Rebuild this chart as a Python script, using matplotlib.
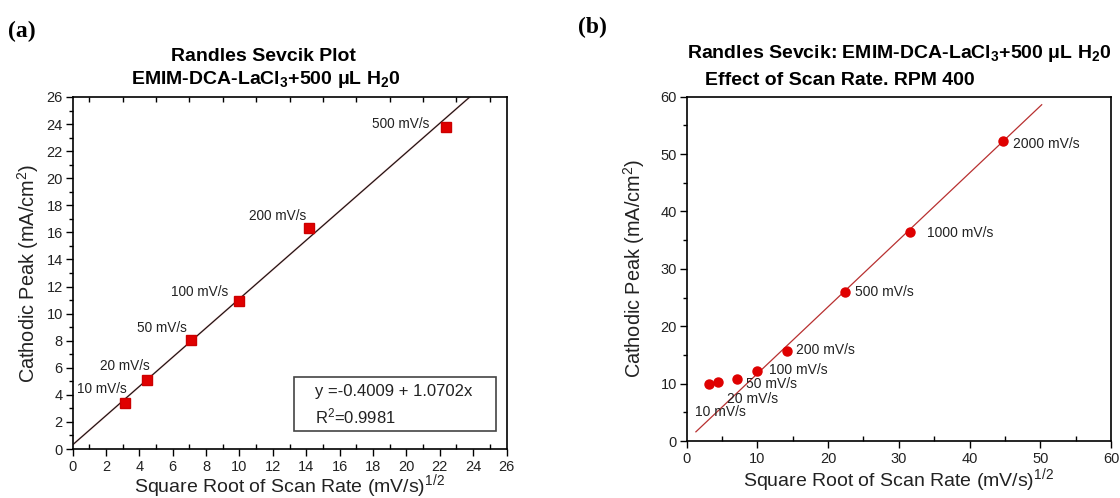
import matplotlib
matplotlib.use("Agg")
import matplotlib.pyplot as plt
from matplotlib.ticker import MultipleLocator
from matplotlib.patches import Rectangle

plt.rcParams['font.family'] = ['Liberation Sans', 'DejaVu Sans']
plt.rcParams['mathtext.fontset'] = 'custom'
plt.rcParams['mathtext.rm'] = 'Liberation Sans'
plt.rcParams['mathtext.it'] = 'Liberation Sans:italic'
plt.rcParams['mathtext.bf'] = 'Liberation Sans:bold'

# ---------------- data: panel (a) ----------------
labels_a = ['10 mV/s', '20 mV/s', '50 mV/s', '100 mV/s', '200 mV/s', '500 mV/s']
sqrt_rate_a = [3.16, 4.47, 7.07, 10.0, 14.14, 22.36]
peak_a = [3.38, 5.1, 8.05, 10.95, 16.32, 23.8]
fit_x_a = [0.0, 23.8]
fit_y_a = [0.3, 26.0]
fit_text_a = ['y =-0.4009 + 1.0702x', 'R$^2$=0.9981']

# ---------------- data: panel (b) ----------------
labels_b = ['10 mV/s', '20 mV/s', '50 mV/s', '100 mV/s', '200 mV/s',
            '500 mV/s', '1000 mV/s', '2000 mV/s']
sqrt_rate_b = [3.16, 4.47, 7.07, 10.0, 14.14, 22.36, 31.62, 44.72]
peak_b = [9.88, 10.34, 10.8, 12.2, 15.74, 26.0, 36.4, 52.2]
fit_x_b = [1.3, 50.2]
fit_y_b = [1.6, 58.6]

# label offsets in pixels (dx, dy)
offsets_a = [(2, 14), (3, 14), (-3.5, 12), (-11, 9), (-2, 12), (-16, 3)]
offsets_b = [(-14, -28), (8.7, -17), (9.3, -5.3), (11.6, 1), (9.3, 0.7),
             (10.2, 0), (16.7, -0.6), (10, -2.5)]

W, H = 1120, 498
fig = plt.figure(figsize=(W / 100, H / 100), dpi=100)

tick_color = '#222222'

def px_axes(left, top, right, bottom):
    return [left / W, 1 - bottom / H, (right - left) / W, (bottom - top) / H]

# ---------------- panel (a) ----------------
ax = fig.add_axes(px_axes(72.5, 97, 506.5, 449))
ax.plot(fit_x_a, fit_y_a, color='#d02020', lw=1.4, alpha=0.3, zorder=2)
ax.plot(fit_x_a, fit_y_a, color='#111111', lw=0.8, zorder=3)
ax.plot(sqrt_rate_a, peak_a, 's', color='#e00000', ms=6.5, mec='#cc0000', zorder=4)
for lab, x, y, (dx, dy) in zip(labels_a, sqrt_rate_a, peak_a, offsets_a):
    ax.annotate(lab, (x, y), xytext=(dx, dy), textcoords='offset pixels',
                ha='right', va='center', fontsize=9.8, color='#222222')
ax.set_xlim(0, 26)
ax.set_ylim(0, 26)
ax.xaxis.set_major_locator(MultipleLocator(2))
ax.xaxis.set_minor_locator(MultipleLocator(1))
ax.yaxis.set_major_locator(MultipleLocator(2))
ax.yaxis.set_minor_locator(MultipleLocator(1))
ax.tick_params(axis='x', which='major', direction='out', length=5, width=1,
               top=False, bottom=True, labelsize=10.5, labelcolor=tick_color, pad=3)
ax.tick_params(axis='x', which='minor', direction='in', length=3.5, width=1,
               top=True, bottom=True)
ax.tick_params(axis='y', which='major', direction='out', length=5, width=1,
               left=True, right=False, labelsize=10.5, labelcolor=tick_color, pad=2)
ax.tick_params(axis='y', which='minor', direction='out', length=3, width=1,
               left=True, right=False)
for s in ax.spines.values():
    s.set_linewidth(1.2)
ax.set_xlabel('Square Root of Scan Rate (mV/s)$^{1/2}$', fontsize=14,
              color=tick_color, labelpad=-1.5)
ax.set_ylabel('Cathodic Peak (mA/cm$^2$)', fontsize=14.3, color=tick_color, labelpad=4)
ax.add_patch(Rectangle((0.510, 0.051), 0.466, 0.1535, transform=ax.transAxes,
                       fill=False, ec='#444444', lw=1.2, zorder=5))
ax.text(0.559, 0.163, fit_text_a[0], transform=ax.transAxes, fontsize=12,
        ha='left', va='center', color='#222222')
ax.text(0.559, 0.092, fit_text_a[1], transform=ax.transAxes, fontsize=12,
        ha='left', va='center', color='#222222')

fig.text(263 / W, 1 - 61 / H, 'Randles Sevcik Plot', fontsize=14, weight='bold',
         ha='center', va='baseline')
fig.text(266 / W, 1 - 84 / H, r'EMIM-DCA-LaCl$_\mathbf{3}$+500 μL H$_\mathbf{2}$0',
         fontsize=14, weight='bold', ha='center', va='baseline')
fig.text(8 / W, 1 - 37 / H, '(a)', fontsize=17, weight='bold',
         family='Liberation Serif', ha='left', va='baseline')

# ---------------- panel (b) ----------------
bx = fig.add_axes(px_axes(686.7, 96.7, 1111, 441))
bx.plot(fit_x_b, fit_y_b, color='#b83030', lw=0.9, zorder=2)
bx.plot(sqrt_rate_b, peak_b, 'o', color='#e00000', ms=6.5, mec='#dd0000', zorder=4)
for lab, x, y, (dx, dy) in zip(labels_b, sqrt_rate_b, peak_b, offsets_b):
    bx.annotate(lab, (x, y), xytext=(dx, dy), textcoords='offset pixels',
                ha='left', va='center', fontsize=10, color='#222222')
bx.set_xlim(0, 60)
bx.set_ylim(0, 60)
bx.xaxis.set_major_locator(MultipleLocator(10))
bx.xaxis.set_minor_locator(MultipleLocator(5))
bx.yaxis.set_major_locator(MultipleLocator(10))
bx.yaxis.set_minor_locator(MultipleLocator(5))
bx.tick_params(axis='x', which='major', direction='out', length=5, width=1,
               top=False, bottom=True, labelsize=10.5, labelcolor=tick_color, pad=3)
bx.tick_params(axis='x', which='minor', direction='in', length=3.5, width=1,
               top=False, bottom=True)
bx.tick_params(axis='y', which='major', direction='out', length=5, width=1,
               left=True, right=False, labelsize=10.5, labelcolor=tick_color, pad=2)
bx.tick_params(axis='y', which='minor', direction='out', length=3, width=1,
               left=True, right=False)
for s in bx.spines.values():
    s.set_linewidth(1.2)
bx.set_xlabel('Square Root of Scan Rate (mV/s)$^{1/2}$', fontsize=14,
              color=tick_color, labelpad=0)
bx.set_ylabel('Cathodic Peak (mA/cm$^2$)', fontsize=14.3, color=tick_color, labelpad=10)

fig.text(899 / W, 1 - 58 / H,
         r'Randles Sevcik: EMIM-DCA-LaCl$_\mathbf{3}$+500 μL H$_\mathbf{2}$0',
         fontsize=14, weight='bold', ha='center', va='baseline')
fig.text(840 / W, 1 - 85 / H, 'Effect of Scan Rate. RPM 400', fontsize=14,
         weight='bold', ha='center', va='baseline')
fig.text(578 / W, 1 - 33 / H, '(b)', fontsize=17, weight='bold',
         family='Liberation Serif', ha='left', va='baseline')

fig.savefig('out.png', dpi=100)
